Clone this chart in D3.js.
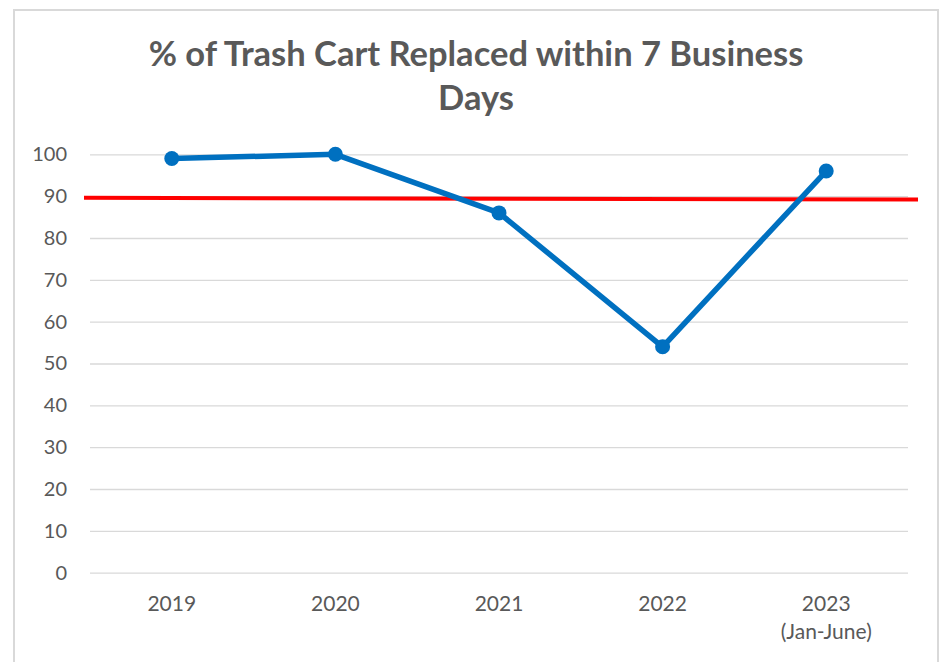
<!DOCTYPE html>
<html>
<head>
<meta charset="utf-8">
<script src="https://cdn.jsdelivr.net/npm/d3@7"></script>
<style>
  html, body { margin: 0; padding: 0; background: #fff; }
  svg { display: block; }
</style>
</head>
<body>
<svg id="chart" width="941" height="662"></svg>
<script>
const titleLines = ["% of Trash Cart Replaced within 7 Business", "Days"];
const categories = ["2019", "2020", "2021", "2022", "2023"];
const categorySubLabels = ["", "", "", "", "(Jan-June)"];
const values = [99, 100, 86, 54, 96];
const yTicks = [0, 10, 20, 30, 40, 50, 60, 70, 80, 90, 100];
const targetLine = [89.6, 89.2]; // red target line (start, end)

const W = 941, H = 662;
const margin = { left: 90, right: 33, top: 154.3, bottom: 89.3 };
const svg = d3.select("#chart");
const textColor = "#595959";
const font = "Lato, 'Open Sans', sans-serif";

// outer border
svg.append("path")
  .attr("d", `M14,${H + 5} L14,10 L938,10 L938,${H + 5}`)
  .attr("fill", "none").attr("stroke", "#d9d9d9").attr("stroke-width", 2);

const x = d3.scaleBand().domain(categories).range([margin.left, W - margin.right]);
const y = d3.scaleLinear().domain([0, 100]).range([H - margin.bottom, margin.top]);

// gridlines
const yAxis = d3.axisLeft(y).tickValues(yTicks).tickSize(-(W - margin.right - margin.left)).tickPadding(23);
const gy = svg.append("g").attr("transform", `translate(${margin.left},0)`).call(yAxis);
gy.select(".domain").remove();
gy.selectAll(".tick line").attr("stroke", "#d9d9d9").attr("stroke-width", 1.3);
gy.selectAll(".tick text").attr("fill", textColor).attr("font-family", font).attr("font-size", 20);

// x labels
const xAxis = d3.axisBottom(x).tickSize(0).tickPadding(0);
const gx = svg.append("g").attr("transform", `translate(0,${H - margin.bottom})`).call(xAxis);
gx.select(".domain").remove();
gx.selectAll(".tick text").remove();
gx.selectAll(".tick").each(function(d, i) {
  const g = d3.select(this);
  g.append("text").attr("y", 38).attr("text-anchor", "middle")
    .attr("fill", textColor).attr("font-family", font).attr("font-size", 21).text(d);
  if (categorySubLabels[i]) {
    g.append("text").attr("y", 66).attr("text-anchor", "middle")
      .attr("fill", textColor).attr("font-family", font).attr("font-size", 21).text(categorySubLabels[i]);
  }
});

// red target line
const xStart = x.range()[0] - 6, xEnd = x.range()[1] + 10;
svg.append("line")
  .attr("x1", xStart).attr("x2", xEnd)
  .attr("y1", y(targetLine[0])).attr("y2", y(targetLine[1]))
  .attr("stroke", "#ff0000").attr("stroke-width", 4);

// series line
const cx = d => x(d) + x.bandwidth() / 2;
const line = d3.line().x((d, i) => cx(categories[i])).y(d => y(d));
svg.append("path").datum(values)
  .attr("d", line).attr("fill", "none")
  .attr("stroke", "#0070c0").attr("stroke-width", 5.5).attr("stroke-linejoin", "round");
svg.selectAll("circle.pt").data(values).enter().append("circle")
  .attr("class", "pt")
  .attr("cx", (d, i) => cx(categories[i])).attr("cy", d => y(d))
  .attr("r", 7.5).attr("fill", "#0070c0");

// title
svg.append("g").selectAll("text").data(titleLines).enter().append("text")
  .attr("x", 476).attr("y", (d, i) => 66 + i * 44)
  .attr("text-anchor", "middle").attr("fill", textColor)
  .attr("font-family", font).attr("font-weight", "bold").attr("font-size", 34.5)
  .text(d => d);
</script>
</body>
</html>
